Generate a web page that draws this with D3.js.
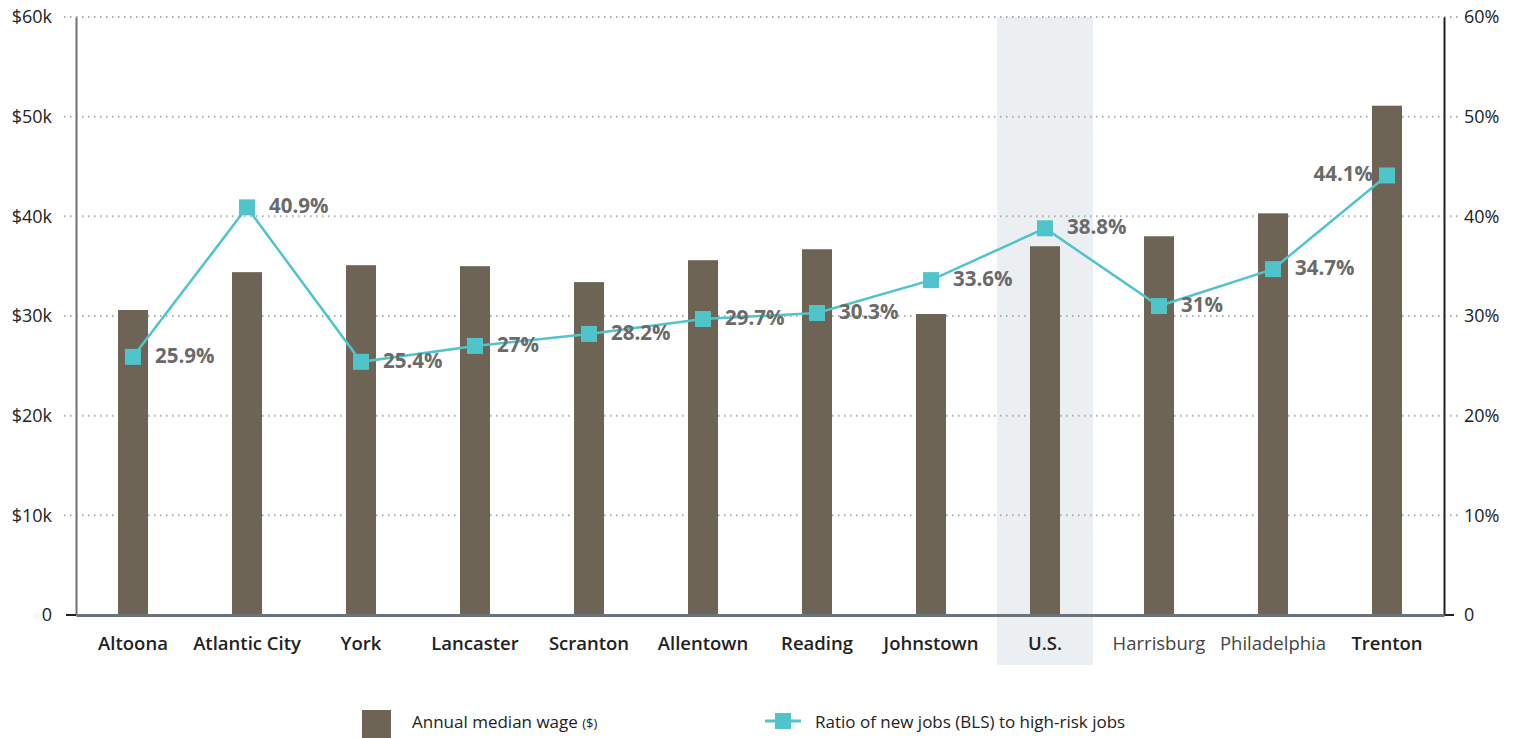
<!DOCTYPE html>
<html>
<head>
<meta charset="utf-8">
<script src="https://cdn.jsdelivr.net/npm/d3@7"></script>
<style>
  body { margin: 0; background: #fff; }
  svg, svg text { font-family: "Open Sans", "Noto Sans", sans-serif; }
</style>
</head>
<body>
<svg width="1524" height="738"></svg>
<script>
// Chart data
const cities = ["Altoona", "Atlantic City", "York", "Lancaster", "Scranton", "Allentown",
    "Reading", "Johnstown", "U.S.", "Harrisburg", "Philadelphia", "Trenton"];
const wages = [30600, 34400, 35100, 35000, 33400, 35600, 36700, 30200, 37000, 38000, 40300, 51100];
const ratios = [25.9, 40.9, 25.4, 27, 28.2, 29.7, 30.3, 33.6, 38.8, 31, 34.7, 44.1];
const wageTicks = [0, 10000, 20000, 30000, 40000, 50000, 60000];
const wageTickLabels = ["0", "$10k", "$20k", "$30k", "$40k", "$50k", "$60k"];
const ratioTicks = [0, 10, 20, 30, 40, 50, 60];
const lightCities = ["Harrisburg", "Philadelphia"];
const highlight = "U.S.";

const barColor = "#6e6455";
const lineColor = "#4fc4ca";
const font = '"Open Sans", "Noto Sans", sans-serif';

const svg = d3.select("svg");
const plotLeft = 76, plotRight = 1444, plotTop = 17, plotBottom = 615;

const x = d3.scaleBand().domain(cities).range([plotLeft, plotRight]).padding(0);
const yL = d3.scaleLinear().domain([0, 60000]).range([plotBottom, plotTop]);
const yR = d3.scaleLinear().domain([0, 60]).range([plotBottom, plotTop]);

// highlight band for U.S.
svg.append("rect")
    .attr("x", x(highlight) + x.bandwidth() / 2 - 48)
    .attr("y", plotTop)
    .attr("width", 96)
    .attr("height", 665 - plotTop)
    .attr("fill", "#ebeff2");

// gridlines
svg.append("g").selectAll("line")
    .data(wageTicks.slice(1))
    .join("line")
    .attr("x1", 64).attr("x2", 1458)
    .attr("y1", d => yL(d)).attr("y2", d => yL(d))
    .attr("stroke", "#a9adb0")
    .attr("stroke-width", 2)
    .attr("stroke-dasharray", "1.5,4.5");

// bars
svg.append("g").selectAll("rect")
    .data(cities)
    .join("rect")
    .attr("x", d => x(d) + x.bandwidth() / 2 - 15)
    .attr("width", 30)
    .attr("y", (d, i) => yL(wages[i]))
    .attr("height", (d, i) => plotBottom - yL(wages[i]))
    .attr("fill", barColor);

// left axis
const axL = svg.append("g").attr("transform", `translate(${plotLeft},0)`)
    .call(d3.axisLeft(yL).tickValues(wageTicks).tickFormat((d, i) => wageTickLabels[i]).tickSize(0).tickPadding(24))
    .attr("font-family", font);
axL.select(".domain").attr("stroke", "#6b737a").attr("stroke-width", 2);
axL.selectAll("text").attr("font-size", 18).attr("fill", "#222");
svg.append("line").attr("x1", 66).attr("x2", plotLeft).attr("y1", plotBottom).attr("y2", plotBottom)
    .attr("stroke", "#222").attr("stroke-width", 2);

// right axis
const axR = svg.append("g").attr("transform", `translate(${plotRight},0)`)
    .call(d3.axisRight(yR).tickValues(ratioTicks).tickFormat(d => d === 0 ? "0" : d + "%").tickSize(0).tickPadding(20))
    .attr("font-family", font);
axR.select(".domain").attr("stroke", "#222").attr("stroke-width", 2);
axR.selectAll("text").attr("font-size", 18).attr("fill", "#222");
svg.append("line").attr("x1", plotRight).attr("x2", 1454).attr("y1", plotBottom).attr("y2", plotBottom)
    .attr("stroke", "#222").attr("stroke-width", 2);

// bottom axis
const axB = svg.append("g").attr("transform", `translate(0,${plotBottom})`)
    .call(d3.axisBottom(x).tickSize(0).tickPadding(22))
    .attr("font-family", font);
axB.select(".domain").attr("stroke", "#6b737a").attr("stroke-width", 3);
axB.selectAll("text")
    .attr("font-size", 18.5)
    .attr("fill", d => lightCities.includes(d) ? "#444" : "#222")
    .attr("font-weight", d => lightCities.includes(d) ? 400 : 600);

// line series
const line = d3.line().x(d => x(d[0]) + x.bandwidth() / 2).y(d => yR(d[1]));
const pts = cities.map((c, i) => [c, ratios[i]]);
svg.append("path").datum(pts)
    .attr("d", line)
    .attr("fill", "none")
    .attr("stroke", lineColor)
    .attr("stroke-width", 2.5);
svg.append("g").selectAll("rect")
    .data(pts)
    .join("rect")
    .attr("x", d => x(d[0]) + x.bandwidth() / 2 - 8)
    .attr("y", d => yR(d[1]) - 8)
    .attr("width", 16).attr("height", 16)
    .attr("fill", lineColor);

// data labels
svg.append("g").selectAll("text")
    .data(pts)
    .join("text")
    .attr("x", (d, i) => x(d[0]) + x.bandwidth() / 2 + (i === pts.length - 1 ? -14 : 22))
    .attr("y", d => yR(d[1]) + 6)
    .attr("text-anchor", (d, i) => i === pts.length - 1 ? "end" : "start")
    .attr("font-size", 20.5)
    .attr("font-weight", 700)
    .attr("fill", "#6a6a6a")
    .text(d => d[1] + "%");

// legend
const lg = svg.append("g");
lg.append("rect").attr("x", 362).attr("y", 710).attr("width", 29).attr("height", 28).attr("fill", barColor);
const t1 = lg.append("text").attr("x", 412).attr("y", 728).attr("font-size", 17).attr("fill", "#222");
t1.append("tspan").text("Annual median wage ");
t1.append("tspan").attr("font-size", 13).text("($)");
lg.append("line").attr("x1", 765).attr("x2", 801).attr("y1", 721).attr("y2", 721)
    .attr("stroke", lineColor).attr("stroke-width", 3);
lg.append("rect").attr("x", 775).attr("y", 713).attr("width", 16).attr("height", 16).attr("fill", lineColor);
lg.append("text").attr("x", 815).attr("y", 728).attr("font-size", 17).attr("fill", "#222")
    .text("Ratio of new jobs (BLS) to high-risk jobs");
</script>
</body>
</html>
